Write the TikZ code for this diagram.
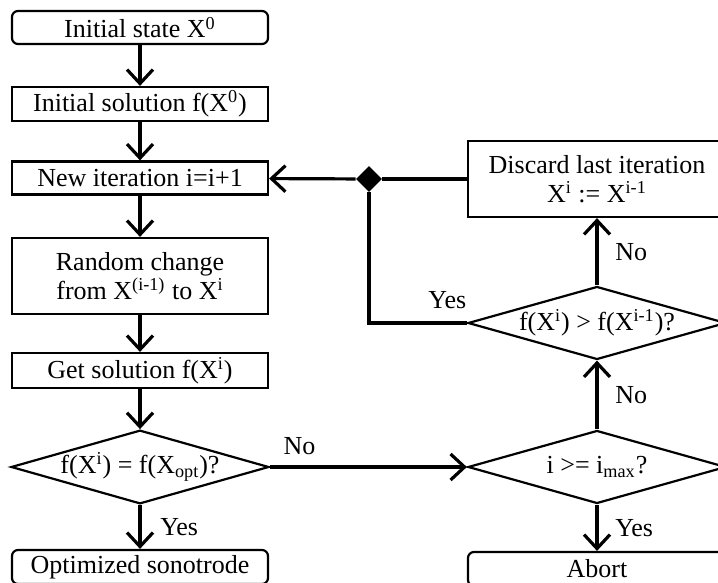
\documentclass[tikz,border=0pt]{standalone}
\usepackage{fontspec}
\setmainfont{Liberation Serif}
\usepackage{tikz}
\usetikzlibrary{arrows.meta,shapes.geometric}

\tikzset{
  box/.style={draw, line width=1.1pt, minimum width=128pt, minimum height=16.5pt, inner sep=1pt, align=center},
  rbox/.style={box, rounded corners=3pt},
  decision/.style={draw, diamond, line width=1.1pt, minimum width=128pt, minimum height=36.5pt, inner sep=0pt, aspect=3.5},
  junc/.style={diamond, fill=black, minimum width=13pt, minimum height=13pt, inner sep=0pt},
  line/.style={line width=1.6pt},
  arrow/.style={line, -{Straight Barb[length=7pt,width=13pt]}}
}

\begin{document}
\begin{tikzpicture}[x=0.5pt,y=-0.5pt,font=\fontsize{13}{14.5}\selectfont]
\useasboundingbox (0,0) rectangle (718,583);
% left column
\node[rbox] (init) at (140,27.5) {Initial state X\textsuperscript{0}};
\node[box, minimum height=17pt] (sol) at (140,104) {Initial solution f(X\textsuperscript{0})};
\node[box] (newit) at (140,178) {New iteration i=i+1};
\node[box, minimum height=38pt] (rand) at (140,276) {Random change\\from X\textsuperscript{(i-1)} to X\textsuperscript{i}};
\node[box, minimum height=17.5pt] (getsol) at (140,370.5) {Get solution f(X\textsuperscript{i})};
\node[decision] (opt) at (140,467) {f(X\textsuperscript{i}) = f(X\textsubscript{opt})?};
\node[rbox, minimum height=17pt] (done) at (140,567) {Optimized sonotrode};
% right column
\node[box, minimum width=129pt, minimum height=38pt] (discard) at (597,179) {Discard last iteration\\X\textsuperscript{i} := X\textsuperscript{i-1}};
\node[decision, minimum width=129pt] (cmp) at (597,323) {f(X\textsuperscript{i}) > f(X\textsuperscript{i-1})?};
\node[decision, minimum width=129pt] (imax) at (597,467) {i >= i\textsubscript{max}?};
\node[rbox, minimum width=129pt, minimum height=17pt] (abort) at (597,569) {Abort};
\node[junc] (j) at (369,179) {};

\draw[arrow] (init) -- (sol);
\draw[arrow] (sol) -- (newit);
\draw[arrow] (newit) -- (rand);
\draw[arrow] (rand) -- (getsol);
\draw[arrow] (getsol) -- (opt);
\draw[arrow] (opt) -- node[right=6pt]{Yes} (done);
\draw[arrow] (opt) -- node[pos=0.15, above=2pt]{No} (imax);
\draw[arrow] (imax) -- node[right=5pt]{Yes} (abort);
\draw[arrow] (imax) -- node[right=5pt]{No} (cmp);
\draw[arrow] (cmp) -- node[right=5pt]{No} (discard);
\draw[line] (cmp.west) -| node[pos=0.1, above=3pt]{Yes} (j);
\draw[line] (discard) -- (j);
\draw[arrow] (j) -- (newit);
\end{tikzpicture}
\end{document}
